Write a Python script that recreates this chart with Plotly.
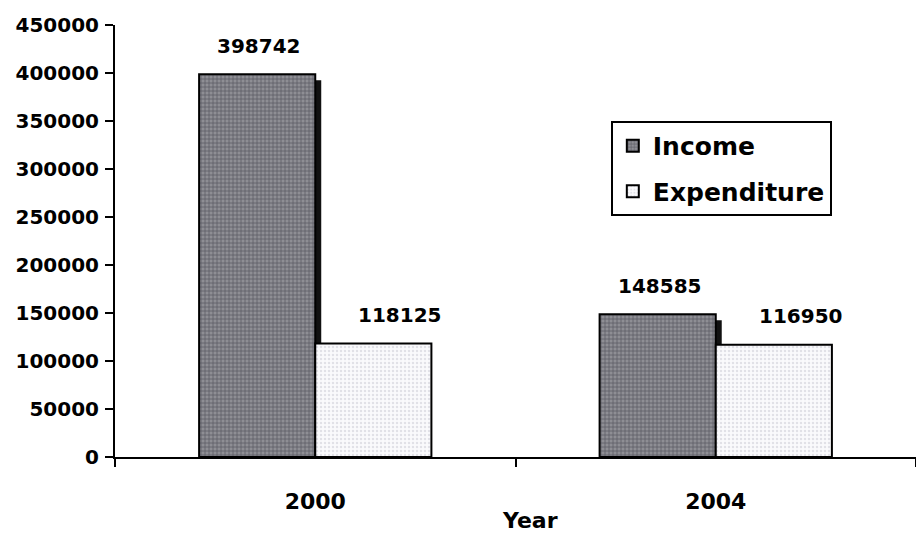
import plotly.graph_objects as go

years = ["2000", "2004"]
income = [398742, 148585]
expenditure = [118125, 116950]
y_ticks = [0, 50000, 100000, 150000, 200000, 250000, 300000, 350000, 400000, 450000]

FONT = "DejaVu Sans"
Y_MAX = 450000
PLOT_H = 432          # plot-area height in px
CAT_W = 401           # px per category
BAR_W = 0.29          # bar width in category units
DEPTH_PX = 6          # depth of the drop shadow behind the income bars

depth_x = DEPTH_PX / CAT_W
depth_y = DEPTH_PX * Y_MAX / PLOT_H

fig = go.Figure()
# drop shadow of the income bars (right and lower edge)
fig.add_trace(go.Bar(
    x=years, y=[v - depth_y for v in income], offset=-BAR_W + depth_x, width=BAR_W,
    marker=dict(color="#111111", line=dict(width=0)),
    showlegend=False, hoverinfo="skip",
))
fig.add_trace(go.Bar(
    name="Income", x=years, y=income, offset=-BAR_W, width=BAR_W, legendgroup="inc",
    marker=dict(color="#6e6e74", line=dict(color="black", width=2),
                pattern=dict(shape="+", fgcolor="#2a2a30", bgcolor="#8e8e94",
                             size=4, solidity=0.35)),
))
fig.add_trace(go.Bar(
    name="Expenditure", x=years, y=expenditure, offset=0, width=BAR_W, legendgroup="exp",
    marker=dict(color="#f4f4f6", line=dict(color="black", width=2),
                pattern=dict(shape=".", fgcolor="#c8c8d2", bgcolor="#fafafc",
                             size=4, solidity=0.3)),
))

# value labels above each bar
annotations = []
for i, v in enumerate(income):
    annotations.append(dict(x=i - BAR_W / 2, y=v, xref="x", yref="y", text=str(v),
                            showarrow=False, yshift=28, xshift=2,
                            font=dict(family=FONT, size=20, color="black", weight="bold")))
for i, v in enumerate(expenditure):
    annotations.append(dict(x=i + BAR_W / 2, y=v, xref="x", yref="y", text=str(v),
                            showarrow=False, yshift=29, xshift=27,
                            font=dict(family=FONT, size=20, color="black", weight="bold")))
# x-axis title
annotations.append(dict(text="Year", xref="paper", yref="paper", x=0.518, y=-0.148,
                        xanchor="center", yanchor="middle", showarrow=False,
                        font=dict(family=FONT, size=22, color="black", weight="bold")))

fig.update_layout(
    width=916, height=536,
    margin=dict(l=115, r=0, t=25, b=79),
    paper_bgcolor="white", plot_bgcolor="white",
    barmode="overlay",
    font=dict(family=FONT, size=20, color="black", weight="bold"),
    annotations=annotations,
    legend=dict(x=0.619, y=0.778, xanchor="left", yanchor="top",
                bordercolor="black", borderwidth=2, bgcolor="white",
                font=dict(family=FONT, size=25, color="black", weight="bold"),
                traceorder="grouped", tracegroupgap=10, itemsizing="constant"),
    xaxis=dict(type="category", showline=True, linecolor="black", linewidth=2,
               ticks="outside", tickson="boundaries", ticklen=8, tickwidth=2,
               tickcolor="black", ticklabelstandoff=24,
               tickfont=dict(family=FONT, size=22, color="black", weight="bold")),
    yaxis=dict(range=[0, Y_MAX], tickvals=y_ticks, tickformat="d", showline=True,
               linecolor="black", linewidth=2, ticks="outside", ticklen=8, tickwidth=2,
               tickcolor="black", showgrid=False, zeroline=False, ticklabelstandoff=2,
               tickfont=dict(family=FONT, size=20, color="black", weight="bold")),
)

fig.write_html("out.html")
